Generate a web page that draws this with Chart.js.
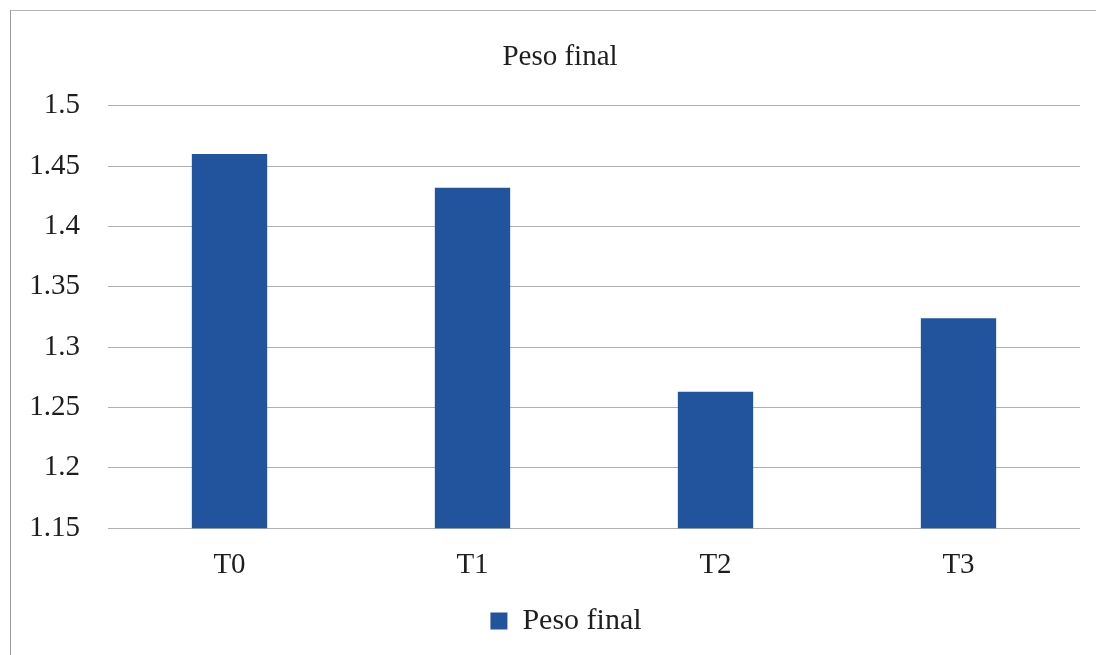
<!DOCTYPE html>
<html>
<head>
<meta charset="utf-8">
<script src="https://cdn.jsdelivr.net/npm/chart.js@4.4.1/dist/chart.umd.min.js"></script>
<style>
  html, body { margin: 0; padding: 0; background: #ffffff; }
  #frame {
    position: absolute; left: 10px; top: 10px; width: 1086px; height: 645px;
    border-left: 1.5px solid #9a9a9a; border-top: 1.5px solid #b5b5b5;
  }
  #wrap { position: absolute; left: 0; top: 0; width: 1096px; height: 655px; }
</style>
</head>
<body>
<div id="frame"></div>
<div id="wrap"><canvas id="c" width="1096" height="655"></canvas></div>
<script>
// Final weight per treatment
const categories = ['T0', 'T1', 'T2', 'T3'];
const pesoFinal = [1.46, 1.432, 1.263, 1.324];
const yTickLabels = ['1.15', '1.2', '1.25', '1.3', '1.35', '1.4', '1.45', '1.5'];
const seriesName = 'Peso final';
const chartTitle = 'Peso final';

const serif = "'Liberation Serif', 'DejaVu Serif', serif";
const textColor = '#1e1e1e';
const barColor = '#22549d';
const gridColor = '#b0b0b0';

// Centre the title and legend on the outer frame rather than the canvas
const shiftBlocks = {
  id: 'shiftBlocks',
  afterLayout(chart) {
    if (chart.titleBlock) { chart.titleBlock.left += 20; chart.titleBlock.right += 20; }
    if (chart.legend) { chart.legend.left += 26; chart.legend.right += 26; }
  }
};

new Chart(document.getElementById('c'), {
  type: 'bar',
  data: {
    labels: categories,
    datasets: [{
      label: seriesName,
      data: pesoFinal,
      backgroundColor: barColor,
      borderWidth: 0,
      categoryPercentage: 1.0,
      barPercentage: 0.31
    }]
  },
  plugins: [shiftBlocks],
  options: {
    responsive: false,
    animation: false,
    layout: { padding: { left: 0, right: 16, top: 0, bottom: 9 } },
    plugins: {
      title: {
        display: true,
        text: chartTitle,
        color: textColor,
        font: { family: serif, size: 29, weight: 'normal' },
        padding: { top: 40, bottom: 31 }
      },
      legend: {
        display: true,
        position: 'bottom',
        labels: {
          color: textColor,
          font: { family: serif, size: 30 },
          boxWidth: 17,
          boxHeight: 17,
          padding: 3
        }
      },
      tooltip: { enabled: false }
    },
    scales: {
      x: {
        grid: { display: false, drawTicks: false },
        border: { display: false },
        ticks: {
          color: textColor,
          font: { family: serif, size: 29 },
          padding: 20
        }
      },
      y: {
        min: 1.15,
        max: 1.5,
        afterFit: (scale) => { scale.width = 108; },
        grid: { color: gridColor, lineWidth: 1, drawTicks: false },
        border: { display: false },
        ticks: {
          stepSize: 0.05,
          color: textColor,
          font: { family: serif, size: 29 },
          padding: 28,
          callback: (value) => {
            const hit = yTickLabels.find(l => Math.abs(Number(l) - value) < 1e-6);
            return hit !== undefined ? hit : '';
          }
        }
      }
    }
  }
});
</script>
</body>
</html>
